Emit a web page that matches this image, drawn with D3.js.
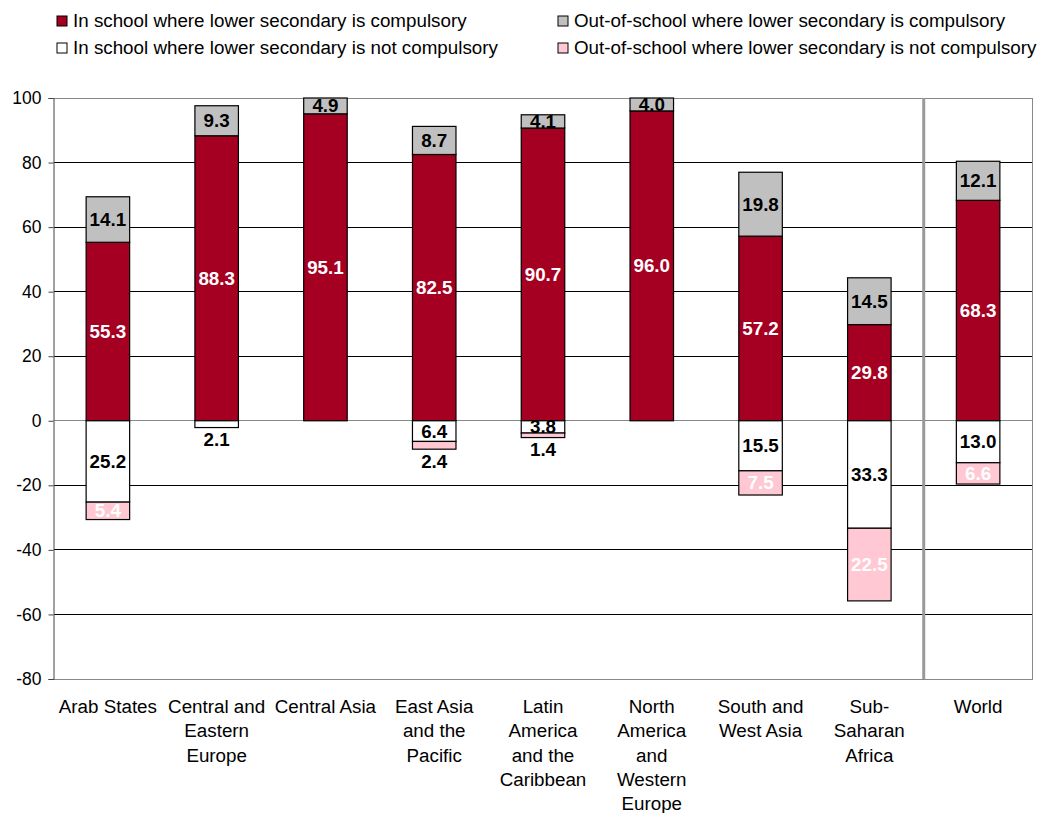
<!DOCTYPE html>
<html><head><meta charset="utf-8">
<script src="https://cdn.jsdelivr.net/npm/d3@7"></script>
<style>body{margin:0;background:#fff}svg{display:block;font-family:"Liberation Sans",Arial,sans-serif}</style>
</head><body><svg id="c" width="1039" height="813"></svg>
<script>
const categories = [
  ["Arab States"],
  ["Central and","Eastern","Europe"],
  ["Central Asia"],
  ["East Asia","and the","Pacific"],
  ["Latin","America","and the","Caribbean"],
  ["North","America","and","Western","Europe"],
  ["South and","West Asia"],
  ["Sub-","Saharan","Africa"],
  ["World"]
];
const inSchoolCompulsory    = [55.3, 88.3, 95.1, 82.5, 90.7, 96.0, 57.2, 29.8, 68.3];
const outSchoolCompulsory   = [14.1,  9.3,  4.9,  8.7,  4.1,  4.0, 19.8, 14.5, 12.1];
const inSchoolNotCompulsory = [25.2,  2.1,  0,    6.4,  3.8,  0,   15.5, 33.3, 13.0];
const outSchoolNotCompulsory= [ 5.4,  0,    0,    2.4,  1.4,  0,    7.5, 22.5,  6.6];
const yTicks = [100,80,60,40,20,0,-20,-40,-60,-80];
const legendLabels = [
  "In school where lower secondary is compulsory",
  "Out-of-school where lower secondary is compulsory",
  "In school where lower secondary is not compulsory",
  "Out-of-school where lower secondary is not compulsory"
];

const FF = "'Liberation Sans', Arial, sans-serif";
const colors = {inC:"#A50021", outC:"#C0C0C0", inN:"#FFFFFF", outN:"#FFC8D2"};
const svg = d3.select("#c");
const L = 53.5, R = 1032.5, T = 98, B = 679;
const x = d3.scaleBand().domain(d3.range(categories.length)).range([L, R]).paddingInner(0.6).paddingOuter(0.3);
const band = d3.scaleBand().domain(d3.range(categories.length)).range([L, R]);
const y = d3.scaleLinear().domain([-80, 100]).range([B, T]);

// gridlines
svg.append("g").selectAll("line").data(yTicks).join("line")
  .attr("x1", L).attr("x2", R).attr("y1", d => y(d)).attr("y2", d => y(d))
  .attr("stroke", d => (d === 100 || d === -80 || d === 0) ? "#888" : "#000").attr("stroke-width", 1)
  .attr("shape-rendering","crispEdges");
// right border
svg.append("line").attr("x1", R).attr("x2", R).attr("y1", T).attr("y2", B).attr("stroke", "#888").attr("shape-rendering","crispEdges");
// separator
svg.append("line").attr("x1", band(8)).attr("x2", band(8)).attr("y1", T).attr("y2", B)
  .attr("stroke", "#999").attr("stroke-width", 3);

// y axis
const yAxis = d3.axisLeft(y).tickValues(yTicks).tickSize(5).tickPadding(7).tickFormat(d => String(d));
const ga = svg.append("g").attr("transform", `translate(${L},0)`).call(yAxis);
ga.select(".domain").attr("stroke", "#444");
ga.selectAll(".tick line").attr("stroke", "#444");
ga.selectAll("text").attr("font-size", 17.5).attr("fill", "#000").attr("font-family", FF);

// stacks
const segs = [];
categories.forEach((c, i) => {
  segs.push({i, y0: 0, y1: inSchoolCompulsory[i], v: inSchoolCompulsory[i], fill: colors.inC, tc: "#fff"});
  segs.push({i, y0: inSchoolCompulsory[i], y1: inSchoolCompulsory[i] + outSchoolCompulsory[i], v: outSchoolCompulsory[i], fill: colors.outC, tc: "#000"});
  segs.push({i, y0: 0, y1: -inSchoolNotCompulsory[i], v: inSchoolNotCompulsory[i], fill: colors.inN, tc: "#000"});
  segs.push({i, y0: -inSchoolNotCompulsory[i], y1: -inSchoolNotCompulsory[i] - outSchoolNotCompulsory[i], v: outSchoolNotCompulsory[i], fill: colors.outN, tc: "#fff"});
});
const shown = segs.filter(s => s.v > 0);
svg.append("g").selectAll("rect").data(shown).join("rect")
  .attr("x", s => x(s.i)).attr("width", x.bandwidth())
  .attr("y", s => y(Math.max(s.y0, s.y1))).attr("height", s => Math.abs(y(s.y0) - y(s.y1)))
  .attr("fill", s => s.fill).attr("stroke", "#000").attr("stroke-width", 1.2);

svg.append("g").selectAll("text").data(shown).join("text")
  .attr("x", s => x(s.i) + x.bandwidth() / 2)
  .attr("y", s => {
    const small = s.v < 3 && s.y1 < 0;
    if (small) return y(Math.min(s.y0, s.y1)) + 12;
    return y((s.y0 + s.y1) / 2);
  })
  .attr("text-anchor", "middle").attr("dominant-baseline", "central")
  .attr("font-size", 18.8).attr("font-weight", "bold").attr("font-family", FF)
  .attr("fill", s => (s.v < 3 && s.y1 < 0) ? "#000" : s.tc)
  .text(s => d3.format(".1f")(s.v));

// x labels
const xl = svg.append("g");
categories.forEach((lines, i) => {
  const cx = band(i) + band.bandwidth() / 2;
  const t = xl.append("text").attr("x", cx).attr("y", 713)
    .attr("text-anchor", "middle").attr("font-size", 18.8).attr("fill", "#000").attr("font-family", FF);
  lines.forEach((ln, k) => t.append("tspan").attr("x", cx).attr("dy", k === 0 ? 0 : 24.3).text(ln));
});

// legend
const legFills = [colors.inC, colors.outC, colors.inN, colors.outN];
const legPos = [[57, 16], [558, 16], [57, 43], [558, 43]];
legendLabels.forEach((lab, k) => {
  const [lx, ly] = legPos[k];
  svg.append("rect").attr("x", lx).attr("y", ly).attr("width", 10).attr("height", 10)
    .attr("fill", legFills[k]).attr("stroke", "#000").attr("stroke-width", 1);
  svg.append("text").attr("x", lx + 16).attr("y", ly + 11).attr("font-size", 18.8).attr("fill", "#000")
    .attr("font-family", FF).text(lab);
});
</script></body></html>
